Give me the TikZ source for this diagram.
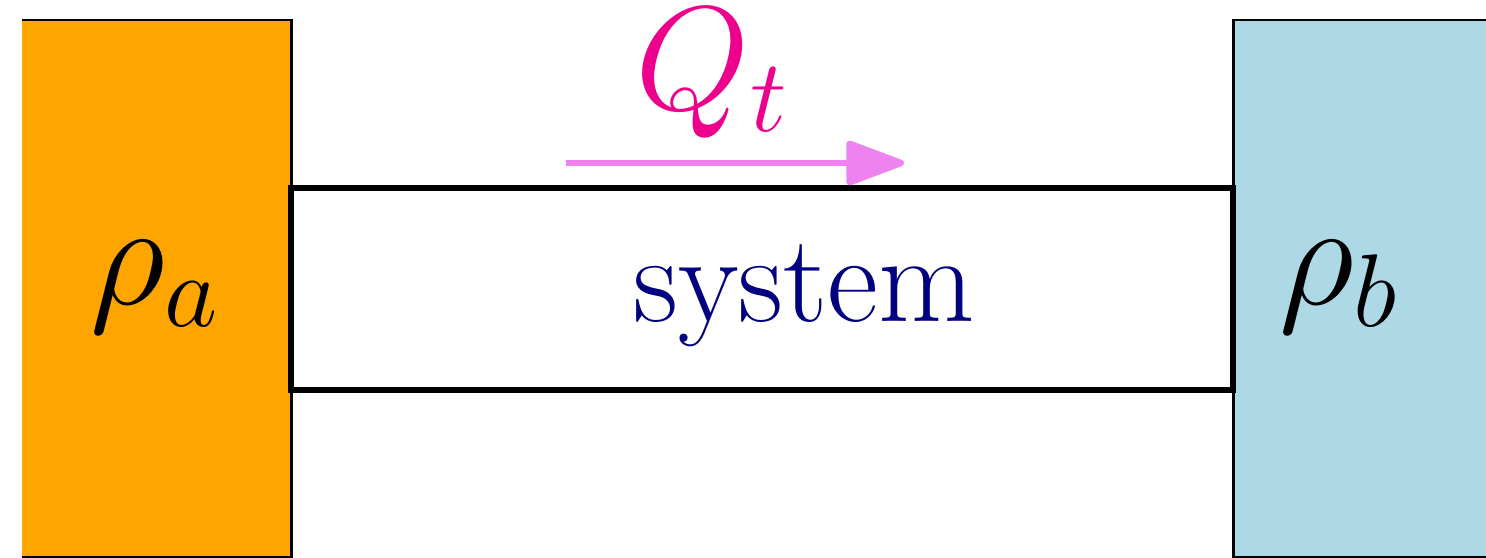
\documentclass[tikz,border=0pt]{standalone}
\usepackage{fix-cm}
\usetikzlibrary{arrows.meta}
\definecolor{bathA}{HTML}{FFA500}
\definecolor{bathB}{HTML}{ADD8E6}
\definecolor{flowcol}{HTML}{EE82EE}
\definecolor{qcol}{RGB}{236,0,140}
\definecolor{syscol}{HTML}{000080}
\tikzset{
  bathline/.style={draw=black, line width=0.8pt},
  sysbox/.style={draw=black, line width=1.7pt, fill=white},
  mathlbl/.style={inner sep=0pt, anchor=base, font=\fontsize{42}{50}\selectfont},
  syslbl/.style={inner sep=0pt, anchor=base, text=syscol, font=\fontsize{35.5}{42}\selectfont},
  flow/.style={draw=flowcol, line width=1.85pt, -{Triangle[length=0.64cm, width=0.46cm, round]}}
}
\begin{document}
\begin{tikzpicture}[x=0.01cm, y=-0.01cm]
\useasboundingbox (0,0) rectangle (1486,557);
% left bath
\fill[bathA] (22,20) rectangle (291.5,557);
\draw[bathline] (22,20) -- (291.5,20) -- (291.5,557) -- (22,557);
% right bath
\fill[bathB] (1233.5,20) rectangle (1486,557);
\draw[bathline] (1486,20) -- (1233.5,20) -- (1233.5,557) -- (1486,557);
% system
\draw[sysbox] (291,188) rectangle (1233,390);
\node[syslbl] (sys) at (804,321) {system};
\node[mathlbl] (ra) at (155,304) {$\rho_a$};
\node[mathlbl] (rb) at (1339,304) {$\rho_b$};
\node[mathlbl, text=qcol] (qt) at (712,109) {$Q_t$};
\coordinate (fs) at (566,163);
\coordinate (fe) at (904,163);
\draw[flow] (fs) -- (fe);
\end{tikzpicture}
\end{document}
